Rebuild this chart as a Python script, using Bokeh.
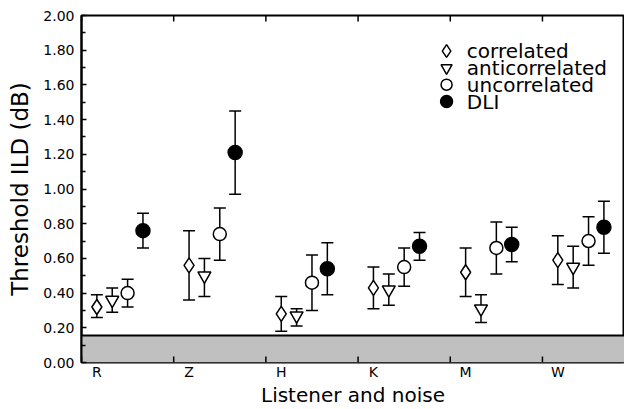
from bokeh.plotting import figure
from bokeh.models import (Range1d, LinearAxis, FixedTicker, BoxAnnotation, Whisker, Span,
                          ColumnDataSource, TeeHead, PrintfTickFormatter)
from bokeh.core.properties import value
from bokeh.embed import file_html
from bokeh.resources import INLINE

# ---- data ----
listeners = ["R", "Z", "H", "K", "M", "W"]
corr    = [0.32, 0.56, 0.28, 0.43, 0.52, 0.59]
corr_lo = [0.26, 0.36, 0.18, 0.31, 0.38, 0.45]
corr_hi = [0.39, 0.76, 0.38, 0.55, 0.66, 0.73]
anti    = [0.36, 0.50, 0.27, 0.42, 0.31, 0.55]
anti_lo = [0.29, 0.38, 0.21, 0.33, 0.23, 0.43]
anti_hi = [0.43, 0.60, 0.31, 0.51, 0.39, 0.67]
unc     = [0.40, 0.74, 0.46, 0.55, 0.66, 0.70]
unc_lo  = [0.32, 0.59, 0.30, 0.44, 0.51, 0.56]
unc_hi  = [0.48, 0.89, 0.62, 0.66, 0.81, 0.84]
dli     = [0.76, 1.21, 0.54, 0.67, 0.68, 0.78]
dli_lo  = [0.66, 0.97, 0.39, 0.59, 0.58, 0.63]
dli_hi  = [0.86, 1.45, 0.69, 0.75, 0.78, 0.93]
floor_level = 0.155
y_ticks = [0.00, 0.20, 0.40, 0.60, 0.80, 1.00, 1.20, 1.40, 1.60, 1.80, 2.00]
y_minor = [0.10, 0.30, 0.50, 0.70, 0.90, 1.10, 1.30, 1.50, 1.70, 1.90]
series_names = ["correlated", "anticorrelated", "uncorrelated", "DLI"]

FONT = "DejaVu Sans"
X_END = 5.89
Y_END = 2.0
W, H = 624, 409
BL, BT, BB = 81, 15, 46
group_idx = list(range(len(listeners)))
offsets = [1 / 6, 2 / 6, 3 / 6, 4 / 6]

p = figure(width=W, height=H, x_range=Range1d(0, X_END), y_range=Range1d(0, Y_END),
           output_backend="svg", toolbar_location=None,
           x_axis_location=None, y_axis_location=None,
           min_border_left=BL, min_border_right=0, min_border_top=BT, min_border_bottom=BB)
p.grid.visible = False
p.outline_line_color = "black"
p.outline_line_width = 2
p.background_fill_color = "white"
p.border_fill_color = "white"

# gray floor band
p.add_layout(BoxAnnotation(top=floor_level, bottom=0, left=0, right=X_END,
                           fill_color="#c0c0c0", fill_alpha=1.0,
                           line_color=None, level="underlay"))
p.add_layout(Span(location=floor_level, dimension="width", line_color="black",
                  line_width=2, level="underlay"))

# left axis
yax = LinearAxis(ticker=FixedTicker(ticks=y_ticks, minor_ticks=y_minor),
                 formatter=PrintfTickFormatter(format="%.2f"),
                 axis_label="Threshold ILD (dB)",
                 major_tick_in=5, major_tick_out=0, minor_tick_in=4, minor_tick_out=0,
                 major_label_standoff=7, axis_label_standoff=7,
                 axis_line_width=2, major_tick_line_width=1.5, minor_tick_line_width=1.5,
                 major_label_text_font=FONT, major_label_text_font_size="14px",
                 major_label_text_color="black",
                 axis_label_text_font=FONT, axis_label_text_font_size="23px",
                 axis_label_text_font_style="normal", axis_label_text_color="black")
p.add_layout(yax, "left")

# inward tick marks at group boundaries on the bottom and top frame edges
px_per_y = (H - BT - BB) / Y_END
tick_len = 6 / px_per_y
int_ticks = group_idx
p.segment(x0=int_ticks, x1=int_ticks, y0=[0] * len(int_ticks), y1=[tick_len] * len(int_ticks),
          line_color="black", line_width=1.5)
p.segment(x0=int_ticks, x1=int_ticks, y0=[Y_END] * len(int_ticks),
          y1=[Y_END - tick_len] * len(int_ticks), line_color="black", line_width=1.5)

# category labels below
lab_pos = [i + offsets[0] for i in group_idx]
xlab = LinearAxis(ticker=FixedTicker(ticks=lab_pos),
                  major_label_overrides={pos: name for pos, name in zip(lab_pos, listeners)},
                  axis_line_color=None, major_tick_line_color=None, minor_tick_line_color=None,
                  major_tick_in=0, major_tick_out=0,
                  major_label_standoff=1, major_label_text_font=FONT,
                  major_label_text_font_size="14px", major_label_text_color="black",
                  axis_label="Listener and noise", axis_label_standoff=0,
                  axis_label_text_font=FONT, axis_label_text_font_size="20px",
                  axis_label_text_font_style="normal", axis_label_text_color="black")
p.add_layout(xlab, "below")

# series
specs = [
    (corr, corr_lo, corr_hi, "diamond", 15, "white"),
    (anti, anti_lo, anti_hi, "inverted_triangle", 13, "white"),
    (unc, unc_lo, unc_hi, "circle", 13, "white"),
    (dli, dli_lo, dli_hi, "circle", 14, "black"),
]
for (vals, lo, hi, marker, size, fill), off in zip(specs, offsets):
    xs = [i + off for i in group_idx]
    src = ColumnDataSource(dict(x=xs, y=vals, lo=lo, hi=hi))
    p.add_layout(Whisker(source=src, base="x", lower="lo", upper="hi",
                         line_color="black", line_width=1.5, level="underlay",
                         upper_head=TeeHead(size=12, line_width=1.5, line_color="black"),
                         lower_head=TeeHead(size=12, line_width=1.5, line_color="black")))
    p.scatter("x", "y", source=src, marker=marker, size=size, fill_color=fill,
              line_color="black", line_width=1.5)

# legend (manual)
leg_mx = 3.96
leg_tx = 4.18
leg_y0 = 1.795
leg_dy = 0.097
leg_ys = [leg_y0 - k * leg_dy for k in range(len(series_names))]
for (vals, lo, hi, marker, size, fill), yy in zip(specs, leg_ys):
    p.scatter([leg_mx], [yy], marker=marker, size=size * 0.85, fill_color=fill,
              line_color="black", line_width=1.5)
p.text(x=[leg_tx] * len(series_names), y=leg_ys, text=series_names,
       text_font=value(FONT), text_font_size="20px", text_baseline="middle",
       text_align="left", text_color="black")

open("out.html", "w").write(file_html(p, INLINE))
